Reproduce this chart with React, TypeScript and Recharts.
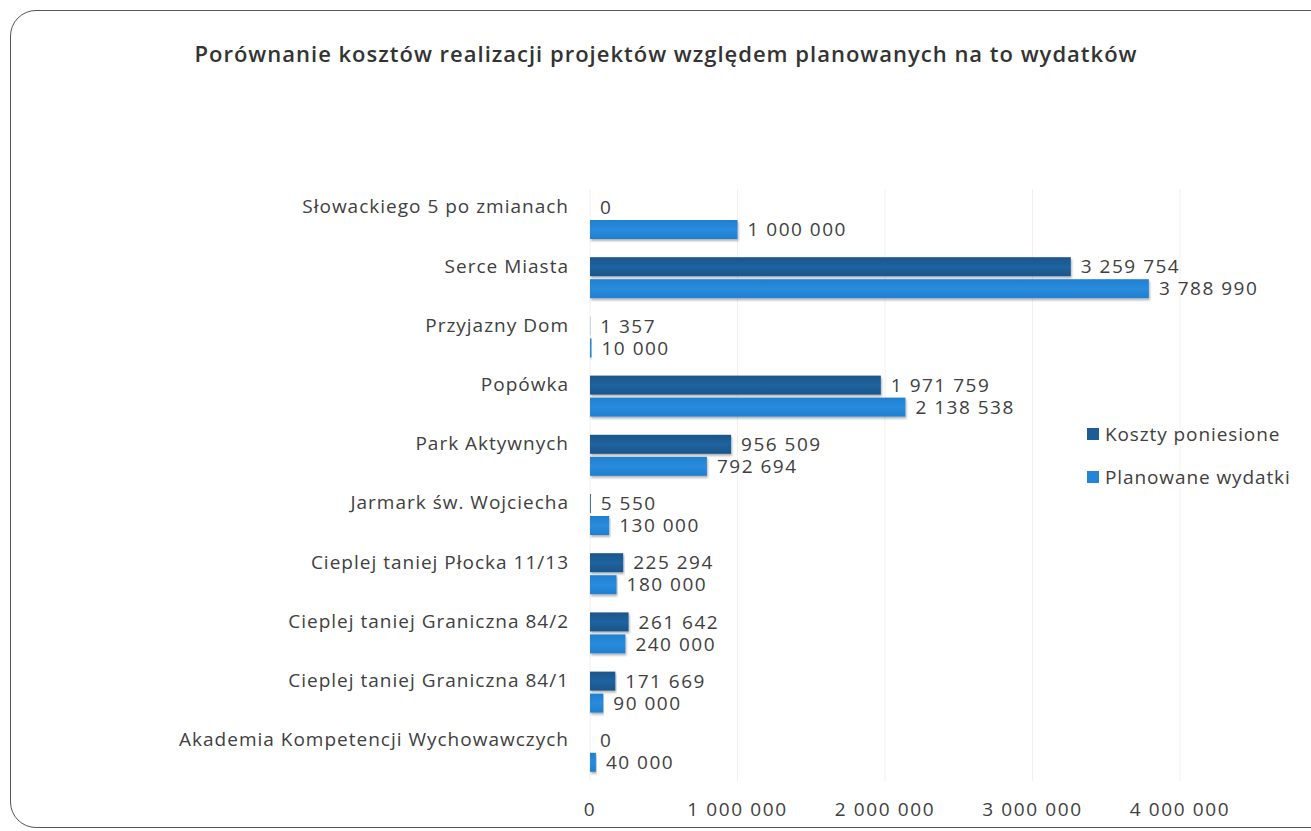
import React from 'react';
import { BarChart, Bar, XAxis, YAxis, LabelList, CartesianGrid } from 'recharts';

const categories = [
  'Słowackiego 5 po zmianach',
  'Serce Miasta',
  'Przyjazny Dom',
  'Popówka',
  'Park Aktywnych',
  'Jarmark św. Wojciecha',
  'Cieplej taniej Płocka 11/13',
  'Cieplej taniej Graniczna 84/2',
  'Cieplej taniej Graniczna 84/1',
  'Akademia Kompetencji Wychowawczych',
];

const kosztyPoniesione = [0, 3259754, 1357, 1971759, 956509, 5550, 225294, 261642, 171669, 0];
const planowaneWydatki = [1000000, 3788990, 10000, 2138538, 792694, 130000, 180000, 240000, 90000, 40000];

const xTicks = [0, 1000000, 2000000, 3000000, 4000000];

const data = categories.map((name, i) => ({
  name,
  koszty: kosztyPoniesione[i],
  planowane: planowaneWydatki[i],
}));

const FONT = '"Open Sans", sans-serif';
const TEXT = '#404040';

const fmt = (v: number) => String(v).replace(/\B(?=(\d{3})+(?!\d))/g, ' ');

const shadowBar = (gradId: string) => (props: any) => {
  const { x, y, width, height } = props;
  if (!width || width <= 0) return <g />;
  return (
    <rect x={x} y={y} width={width} height={height} fill={`url(#${gradId})`} filter="url(#barShadow)" />
  );
};

const LegendBox = () => (
  <div style={{ fontFamily: FONT, fontSize: 19, color: TEXT, lineHeight: '22px', letterSpacing: 0.9 }}>
    <div style={{ display: 'flex', alignItems: 'center', marginBottom: 21 }}>
      <span style={{ width: 12, height: 12, background: '#1d5d97', display: 'inline-block', marginRight: 6 }} />
      Koszty poniesione
    </div>
    <div style={{ display: 'flex', alignItems: 'center' }}>
      <span style={{ width: 12, height: 12, background: '#2584d6', display: 'inline-block', marginRight: 6 }} />
      Planowane wydatki
    </div>
  </div>
);

export default function App() {
  return (
    <div style={{ position: 'absolute', left: 0, top: 0, width: 1311, height: 831, background: '#fff', overflow: 'hidden' }}>
      <div
        style={{
          position: 'absolute',
          left: 10,
          top: 10,
          width: 1330,
          height: 816,
          border: '1.5px solid #555',
          borderRadius: 26,
        }}
      />
      <div
        style={{
          position: 'absolute',
          left: 0,
          top: 38,
          width: 1332,
          textAlign: 'center',
          fontFamily: FONT,
          fontWeight: 600,
          fontSize: 22,
          letterSpacing: 1,
          color: '#333',
        }}
      >
        Porównanie kosztów realizacji projektów względem planowanych na to wydatków
      </div>
      <div style={{ position: 'absolute', left: 0, top: 0 }}>
        <BarChart
          width={1311}
          height={831}
          layout="vertical"
          data={data}
          margin={{ top: 189, right: 131, bottom: 10, left: 0 }}
          barSize={19}
          barGap={3}
        >
          <defs>
            <linearGradient id="gradDark" x1="0" y1="0" x2="0" y2="1">
              <stop offset="0%" stopColor="#1a5588" />
              <stop offset="50%" stopColor="#2063a0" />
              <stop offset="100%" stopColor="#1a5588" />
            </linearGradient>
            <linearGradient id="gradLight" x1="0" y1="0" x2="0" y2="1">
              <stop offset="0%" stopColor="#1f7fcf" />
              <stop offset="50%" stopColor="#2a8bdc" />
              <stop offset="100%" stopColor="#1f7fcf" />
            </linearGradient>
            <filter id="barShadow" x="-5%" y="-20%" width="110%" height="160%">
              <feDropShadow dx="1" dy="2" stdDeviation="1.2" floodColor="#000" floodOpacity="0.3" />
            </filter>
          </defs>
          <CartesianGrid horizontal={false} stroke="#f0f0f0" />
          <XAxis
            type="number"
            domain={[0, 4000000]}
            ticks={xTicks}
            tickFormatter={fmt}
            axisLine={false}
            tickLine={false}
            tickMargin={16}
            height={40}
            tick={{ fill: TEXT, fontSize: 19, fontFamily: FONT, letterSpacing: 1.6 }}
          />
          <YAxis
            type="category"
            dataKey="name"
            width={590}
            axisLine={false}
            tickLine={false}
            tickMargin={15}
            tick={{ fill: TEXT, fontSize: 19, fontFamily: FONT, dy: -12, letterSpacing: 1 }}
            interval={0}
          />
          <Bar dataKey="koszty" name="Koszty poniesione" fill="#1d5d97" shape={shadowBar('gradDark')} isAnimationActive={false}>
            <LabelList dataKey="koszty" position="right" offset={10} formatter={(v: any) => fmt(v)} fill={TEXT} fontSize={19} fontFamily={FONT} letterSpacing={1.5} />
          </Bar>
          <Bar dataKey="planowane" name="Planowane wydatki" fill="#2584d6" shape={shadowBar('gradLight')} isAnimationActive={false}>
            <LabelList dataKey="planowane" position="right" offset={10} formatter={(v: any) => fmt(v)} fill={TEXT} fontSize={19} fontFamily={FONT} letterSpacing={1.5} />
          </Bar>
        </BarChart>
      </div>
      <div style={{ position: 'absolute', left: 1087, top: 423, width: 224 }}>
        <LegendBox />
      </div>
    </div>
  );
}
